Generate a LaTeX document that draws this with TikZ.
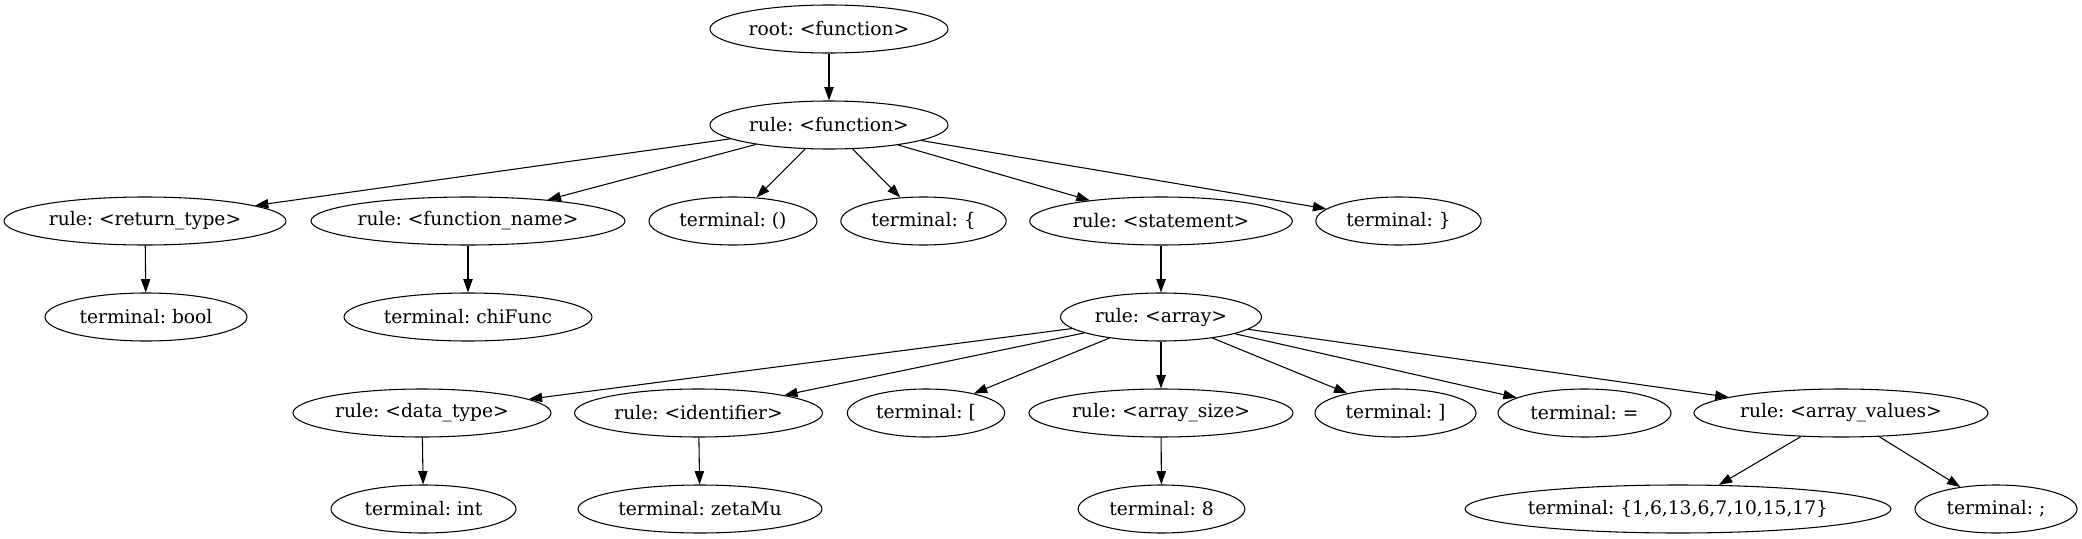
\documentclass[tikz,border=0pt]{standalone}
\usepackage{fontspec}
\setmainfont{DejaVu Serif}
\frenchspacing
\usetikzlibrary{shapes.geometric,arrows.meta}
\begin{document}
\begin{tikzpicture}[x=0.75pt,y=-0.75pt,
  nd/.style={draw, ellipse, inner sep=0pt, minimum height=36pt, line width=0.8pt, font=\fontsize{14pt}{17pt}\selectfont},
  ed/.style={-{Triangle[length=10pt,width=7pt]}, line width=0.8pt}]
\useasboundingbox (0,0) rectangle (2082,539);
% level 0-1
\node[nd, minimum width=178.5pt] (root) at (829,29) {root: <function>};
\node[nd, minimum width=178.5pt] (func) at (829,125) {rule: <function>};
% level 2
\node[nd, minimum width=211.5pt] (rtype) at (145,221) {rule: <return\_type>};
\node[nd, minimum width=235.5pt] (fname) at (468,221) {rule: <function\_name>};
\node[nd, minimum width=126pt] (paren) at (733,221) {terminal: ()};
\node[nd, minimum width=124pt] (lbrace) at (923.5,221) {terminal: \{};
\node[nd, minimum width=197pt] (stmt) at (1161,221) {rule: <statement>};
\node[nd, minimum width=124pt] (rbrace) at (1398.5,221) {terminal: \}};
% level 3
\node[nd, minimum width=151.5pt] (bool) at (146,317) {terminal: bool};
\node[nd, minimum width=186pt] (chi) at (468,317) {terminal: chiFunc};
\node[nd, minimum width=150.75pt] (array) at (1161,317) {rule: <array>};
% level 4
\node[nd, minimum width=193.5pt] (dtype) at (422,413) {rule: <data\_type>};
\node[nd, minimum width=186pt] (ident) at (698.5,413) {rule: <identifier>};
\node[nd, minimum width=118pt] (lbrack) at (926,413) {terminal: [};
\node[nd, minimum width=198pt] (asize) at (1161,413) {rule: <array\_size>};
\node[nd, minimum width=120.75pt] (rbrack) at (1395.5,413) {terminal: ]};
\node[nd, minimum width=129.75pt] (eq) at (1584.5,413) {terminal: =};
\node[nd, minimum width=220.5pt] (avals) at (1841,413) {rule: <array\_values>};
% level 5
\node[nd, minimum width=138.75pt] (int) at (423.5,509) {terminal: int};
\node[nd, minimum width=183pt] (zeta) at (700,509) {terminal: zetaMu};
\node[nd, minimum width=125pt] (eight) at (1161.5,509) {terminal: 8};
\node[nd, minimum width=319.5pt] (vals) at (1678,509) {terminal: \{1,6,13,6,7,10,15,17\}};
\node[nd, minimum width=121.5pt] (semi) at (1996,509) {terminal: ;};
% edges
\draw[ed] (root) -- (func);
\foreach \t in {rtype,fname,paren,lbrace,stmt,rbrace} \draw[ed] (func) -- (\t);
\draw[ed] (rtype) -- (bool);
\draw[ed] (fname) -- (chi);
\draw[ed] (stmt) -- (array);
\foreach \t in {dtype,ident,lbrack,asize,rbrack,eq,avals} \draw[ed] (array) -- (\t);
\draw[ed] (dtype) -- (int);
\draw[ed] (ident) -- (zeta);
\draw[ed] (asize) -- (eight);
\draw[ed] (avals) -- (vals);
\draw[ed] (avals) -- (semi);
\end{tikzpicture}
\end{document}
